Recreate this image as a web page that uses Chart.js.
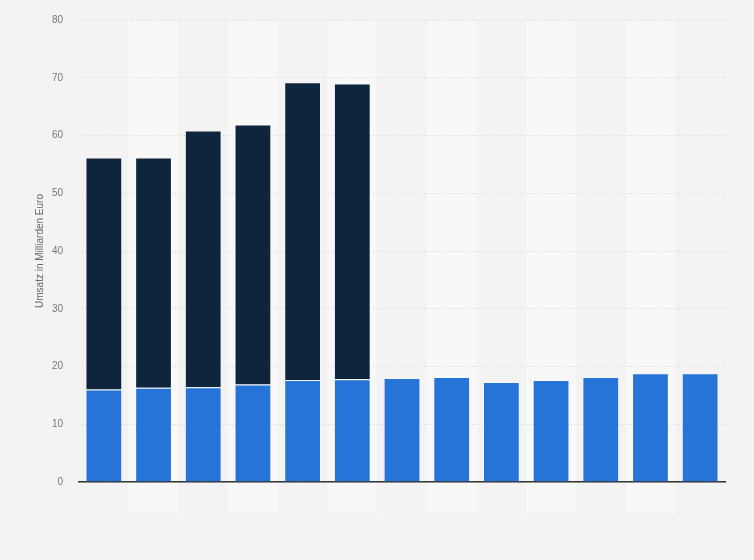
<!DOCTYPE html>
<html>
<head>
<meta charset="utf-8">
<script src="https://cdn.jsdelivr.net/npm/chart.js@4/dist/chart.umd.min.js"></script>
<style>
  html, body { margin: 0; padding: 0; background: #f3f3f3; overflow: hidden; }
  #wrap { width: 754px; height: 560px; position: relative; overflow: hidden; }
  #c { position: absolute; left: 0; top: -2px; }
</style>
</head>
<body>
<div id="wrap"><canvas id="c" width="754" height="562"></canvas></div>
<script>
// Categories (no axis labels are shown on the x axis)
const categories = ['1', '2', '3', '4', '5', '6', '7', '8', '9', '10', '11', '12', '13'];
// Lower segment (blue), in billion euro
const seriesLower = [16.0, 16.3, 16.4, 16.9, 17.65, 17.8, 18.0, 18.2, 17.3, 17.65, 18.2, 18.85, 18.85];
// Upper segment (dark navy), in billion euro
const seriesUpper = [40.2, 39.9, 44.45, 45.0, 51.55, 51.2, null, null, null, null, null, null, null];
// Y axis range
const yMin = 0, yMax = 80, yStep = 10;
const yTitle = 'Umsatz in Milliarden Euro';

// Alternating column shading behind the bars
const bandPlugin = {
  id: 'bands',
  beforeDraw(chart) {
    const { ctx, chartArea, scales } = chart;
    const xs = scales.x;
    const w = (chartArea.right - chartArea.left) / categories.length;
    ctx.save();
    ctx.fillStyle = '#f8f8f8';
    for (let i = 1; i < categories.length; i += 2) {
      const cx = xs.getPixelForValue(i);
      ctx.fillRect(cx - w / 2, chartArea.top, w, chartArea.bottom + 31 - chartArea.top);
    }
    ctx.restore();
  }
};

new Chart(document.getElementById('c'), {
  type: 'bar',
  data: {
    labels: categories,
    datasets: [
      {
        data: seriesLower,
        backgroundColor: '#2774d9',
        borderColor: 'rgba(255,255,255,0.35)',
        borderWidth: 1,
        barPercentage: 0.74,
        categoryPercentage: 1
      },
      {
        data: seriesUpper,
        backgroundColor: '#0f253d',
        borderColor: 'rgba(255,255,255,0.35)',
        borderWidth: 1,
        barPercentage: 0.74,
        categoryPercentage: 1
      }
    ]
  },
  options: {
    responsive: false,
    animation: false,
    layout: { padding: { left: 34, right: 29, top: 12, bottom: 78 } },
    plugins: { legend: { display: false }, tooltip: { enabled: false } },
    scales: {
      x: {
        stacked: true,
        grid: { display: false, drawTicks: false },
        ticks: { display: false },
        border: { display: true, color: '#333', width: 1.5 }
      },
      y: {
        stacked: true,
        min: yMin, max: yMax,
        afterFit(scale) { scale.width = 45; },
        ticks: {
          stepSize: yStep,
          padding: 16,
          color: '#777',
          font: { family: 'Liberation Sans', size: 10 }
        },
        grid: { color: '#d6d6d6', drawTicks: false },
        border: { display: false, dash: [1, 2] },
        title: {
          display: true,
          text: yTitle,
          color: '#666',
          padding: { top: 0, bottom: 0 },
          font: { family: 'Liberation Sans', size: 10 }
        }
      }
    }
  },
  plugins: [bandPlugin]
});
</script>
</body>
</html>
